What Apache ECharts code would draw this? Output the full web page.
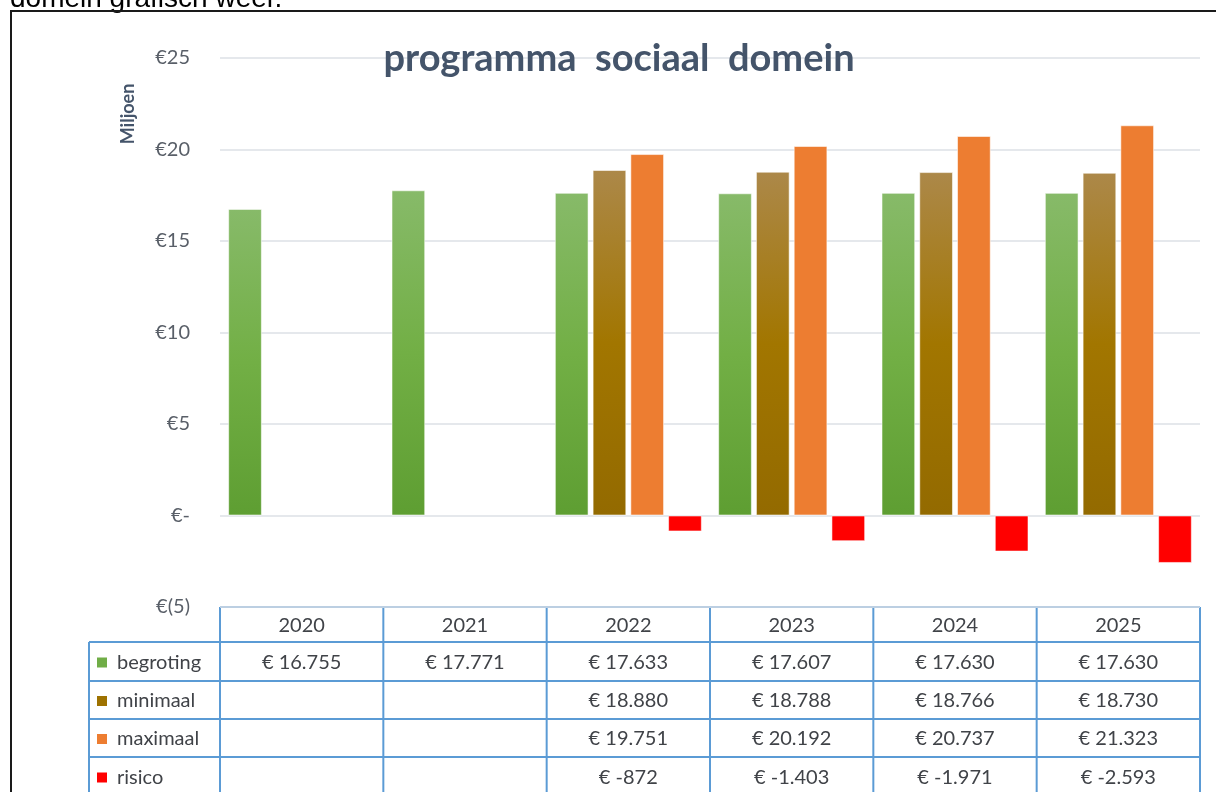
<!DOCTYPE html>
<html>
<head>
<meta charset="utf-8">
<title>programma sociaal domein</title>
<script src="https://cdn.jsdelivr.net/npm/echarts@6/dist/echarts.min.js"></script>
<style>
  html, body { margin: 0; padding: 0; background: #fff; }
  #main { width: 1216px; height: 792px; }
</style>
</head>
<body>
<div id="main"></div>
<script>
// jaren en bedragen (x € 1.000), zoals in de tabel onder de grafiek
var years = ['2020', '2021', '2022', '2023', '2024', '2025'];
var begroting = [16755, 17771, 17633, 17607, 17630, 17630];
var minimaal = [null, null, 18880, 18788, 18766, 18730];
var maximaal = [null, null, 19751, 20192, 20737, 21323];
var risico = [null, null, -872, -1403, -1971, -2593];
var seriesNames = ['begroting', 'minimaal', 'maximaal', 'risico'];
var yTicks = [-5, 0, 5, 10, 15, 20, 25];

var allData = [begroting, minimaal, maximaal, risico];

// layout
var gridLeft = 220, gridRight = 16, gridTop = 58, gridBottom = 185;
var W = 1216, H = 792;
var tableLeft = 89;
var rowLines = [607, 642, 681, 719, 757, 796];
var lineBlue = '#5B9BD5';
var txtColor = '#404348';
var font = 'Lato, "Open Sans", sans-serif';

var keyColors = ['#70AD47', '#9E7200', '#ED7D31', '#FF0000'];
var barColors = [
    new echarts.graphic.LinearGradient(0, 0, 0, 1, [
        {offset: 0, color: '#87BA69'},
        {offset: 0.5, color: '#72AF45'},
        {offset: 1, color: '#5E9E32'}
    ]),
    new echarts.graphic.LinearGradient(0, 0, 0, 1, [
        {offset: 0, color: '#AC8849'},
        {offset: 0.5, color: '#A27600'},
        {offset: 1, color: '#936A00'}
    ]),
    '#ED7D31',
    '#FF0000'
];

function toMiljoen(arr) {
    return arr.map(function (v) { return v == null ? null : v / 1000; });
}

function fmtEuro(v) {
    var s = Math.abs(v).toString().replace(/\B(?=(\d{3})+(?!\d))/g, '.');
    return '€ ' + (v < 0 ? '-' : '') + s;
}

var chart = echarts.init(document.getElementById('main'));

var series = seriesNames.map(function (name, i) {
    return {
        name: name,
        type: 'bar',
        data: toMiljoen(allData[i]),
        barGap: '12%',
        barCategoryGap: '10%',
        itemStyle: {
            color: barColors[i],
            borderColor: 'rgba(255,255,255,0.55)',
            borderWidth: 1
        }
    };
});

// tabel onder de grafiek
var g = [];
var plotW = W - gridLeft - gridRight;
var colW = plotW / years.length;

// tekst boven het kader (grotendeels buiten beeld)
g.push({
    type: 'text', x: 10, y: 13,
    style: {text: 'domein grafisch weer.', fill: '#000', font: '28px "Liberation Sans", Arial', align: 'left', verticalAlign: 'bottom'}
});
// kader
g.push({type: 'line', shape: {x1: 10, y1: 11, x2: W + 2, y2: 11}, style: {stroke: '#1a1a1a', lineWidth: 2}});
g.push({type: 'line', shape: {x1: 11, y1: 10, x2: 11, y2: H + 2}, style: {stroke: '#1a1a1a', lineWidth: 2}});

// as-titel
g.push({
    type: 'text', x: 128, y: 114, rotation: Math.PI / 2,
    style: {text: 'Miljoen', fill: '#44546A', font: 'bold 18px ' + font, align: 'center', verticalAlign: 'middle'}
});

// horizontale lijnen
g.push({type: 'line', shape: {x1: gridLeft, y1: rowLines[0], x2: W - gridRight, y2: rowLines[0]}, style: {stroke: lineBlue, lineWidth: 2}});
for (var r = 1; r < rowLines.length; r++) {
    g.push({type: 'line', shape: {x1: tableLeft, y1: rowLines[r], x2: W - gridRight, y2: rowLines[r]}, style: {stroke: lineBlue, lineWidth: 2}});
}
// verticale lijnen
g.push({type: 'line', shape: {x1: tableLeft, y1: rowLines[1], x2: tableLeft, y2: H + 2}, style: {stroke: lineBlue, lineWidth: 2}});
for (var c = 0; c <= years.length; c++) {
    var cx = gridLeft + c * colW;
    g.push({type: 'line', shape: {x1: cx, y1: rowLines[0], x2: cx, y2: H + 2}, style: {stroke: lineBlue, lineWidth: 2}});
}
// jaren
years.forEach(function (y, c) {
    g.push({
        type: 'text', x: gridLeft + (c + 0.5) * colW, y: (rowLines[0] + rowLines[1]) / 2 + 1,
        style: {text: y, fill: txtColor, font: '20px ' + font, align: 'center', verticalAlign: 'middle'}
    });
});
// rijen
seriesNames.forEach(function (name, i) {
    var yc = (rowLines[i + 1] + rowLines[i + 2]) / 2 + 1;
    g.push({type: 'rect', shape: {x: 97, y: yc - 5, width: 10, height: 10}, style: {fill: keyColors[i]}});
    g.push({
        type: 'text', x: 117, y: yc,
        style: {text: name, fill: txtColor, font: '20px ' + font, align: 'left', verticalAlign: 'middle'}
    });
    allData[i].forEach(function (v, c) {
        if (v == null) return;
        g.push({
            type: 'text', x: gridLeft + (c + 0.5) * colW, y: yc,
            style: {text: fmtEuro(v), fill: txtColor, font: '20px ' + font, align: 'center', verticalAlign: 'middle'}
        });
    });
});

var option = {
    backgroundColor: '#fff',
    animation: false,
    title: {
        text: 'programma  sociaal  domein',
        left: 614,
        top: 35,
        textAlign: 'center',
        textStyle: {
            color: '#44546A',
            fontSize: 38,
            fontWeight: 'bold',
            fontFamily: font
        }
    },
    grid: {
        left: gridLeft,
        right: gridRight,
        top: gridTop,
        bottom: gridBottom,
        containLabel: false
    },
    xAxis: {
        type: 'category',
        data: years,
        axisLine: {show: false},
        axisTick: {show: false},
        axisLabel: {show: false}
    },
    yAxis: {
        type: 'value',
        min: yTicks[0],
        max: yTicks[yTicks.length - 1],
        interval: 5,
        axisLine: {show: false},
        axisTick: {show: false},
        splitLine: {
            lineStyle: {color: '#DCE0E6', width: 1.5}
        },
        axisLabel: {
            margin: 30,
            color: '#595F68',
            fontSize: 20,
            fontFamily: font,
            formatter: function (v) {
                if (v === 0) return '€-';
                if (v < 0) return '€(' + (-v) + ')';
                return '€' + v;
            }
        }
    },
    series: series,
    graphic: g
};

chart.setOption(option);
</script>
</body>
</html>
